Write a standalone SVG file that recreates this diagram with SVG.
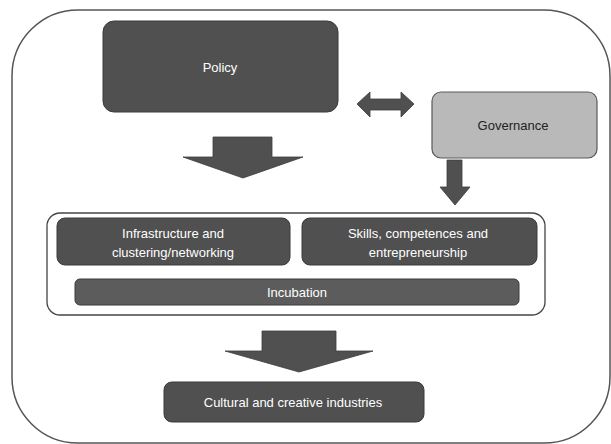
<svg xmlns="http://www.w3.org/2000/svg" width="611" height="444" viewBox="0 0 611 444">
  <style>
    .dark { fill: #505050; stroke: #3a3a3a; stroke-width: 1; }
    .light { fill: #b9b9b9; stroke: #5a5a5a; stroke-width: 1.2; }
    .bar { fill: #5c5c5c; stroke: #3a3a3a; stroke-width: 1; }
    .arrow { fill: #505050; stroke: #3c3c3c; stroke-width: 0.8; }
    .frame { fill: #ffffff; stroke: #555555; stroke-width: 1.5; }
    .wt { font-family: "Liberation Sans", Arial, sans-serif; font-size: 13px; fill: #ffffff; text-anchor: middle; }
    .dt { font-family: "Liberation Sans", Arial, sans-serif; font-size: 13px; fill: #222222; text-anchor: middle; }
  </style>
  <rect x="0" y="0" width="611" height="444" fill="#ffffff"/>
  <rect class="frame" x="12" y="10" width="598" height="433" rx="66" ry="66"/>

  <g id="policy">
    <rect class="dark" x="103" y="21" width="235" height="91" rx="11" ry="11"/>
    <text class="wt" x="220" y="72">Policy</text>
  </g>

  <g id="governance">
    <rect class="light" x="432" y="92" width="165" height="66" rx="9" ry="9"/>
    <text class="dt" x="513" y="130">Governance</text>
  </g>

  <g id="container">
    <rect fill="#ffffff" stroke="#444444" stroke-width="1.3" x="47" y="213" width="498" height="102" rx="13" ry="13"/>
  </g>

  <g id="infrastructure">
    <rect class="dark" x="57" y="218" width="233" height="47" rx="8" ry="8"/>
    <text class="wt" x="173" y="238">Infrastructure and</text>
    <text class="wt" x="173" y="257">clustering/networking</text>
  </g>

  <g id="skills">
    <rect class="dark" x="302" y="218" width="235" height="47" rx="8" ry="8"/>
    <text class="wt" x="418" y="238">Skills, competences and</text>
    <text class="wt" x="418" y="257">entrepreneurship</text>
  </g>

  <g id="incubation">
    <rect class="bar" x="75" y="279" width="444" height="26" rx="5" ry="5"/>
    <text class="wt" x="297" y="297">Incubation</text>
  </g>

  <g id="cultural">
    <rect class="dark" x="164" y="382" width="260" height="40" rx="8" ry="8"/>
    <text class="wt" x="293" y="407">Cultural and creative industries</text>
  </g>

  <g id="connectors">
    <polygon class="arrow" points="213,137 272,137 272,157 303,157 243,178 183,157 213,157"/>
    <polygon class="arrow" points="357,104 370,92 370,99 401,99 401,92 414,104 401,117 401,110 370,110 370,117"/>
    <polygon class="arrow" points="447,160 462,160 462,187 470,187 455,205 440,187 447,187"/>
    <polygon class="arrow" points="262,331 336,331 336,351 373,351 299,372 225,351 262,351"/>
  </g>
</svg>
